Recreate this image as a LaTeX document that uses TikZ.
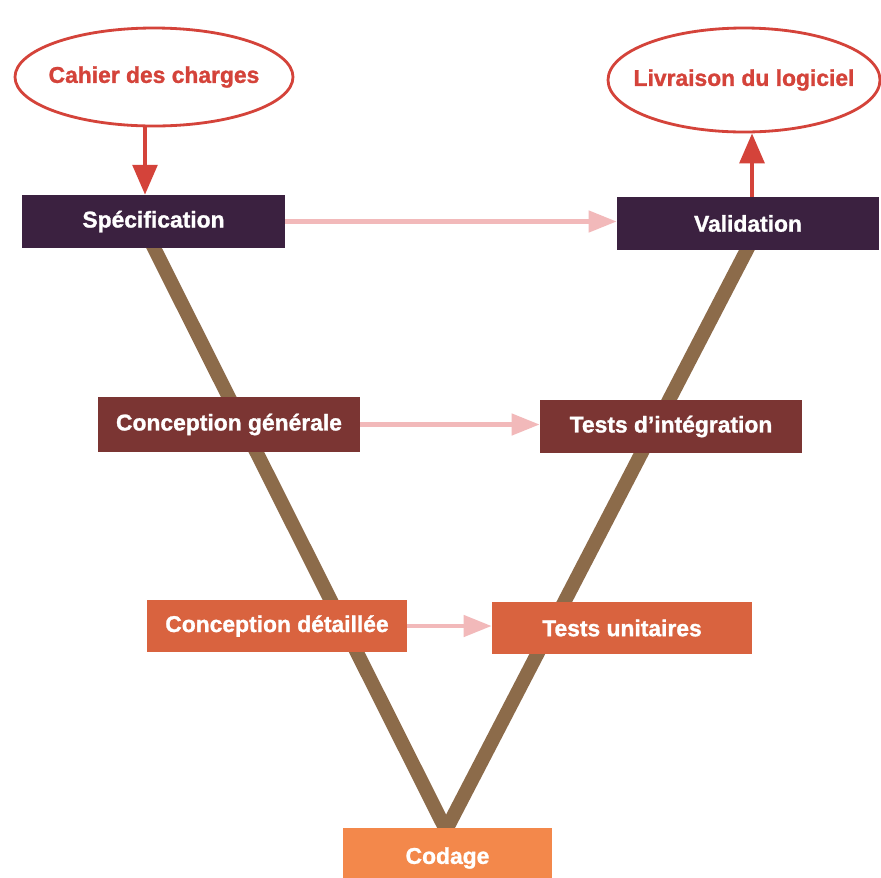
\documentclass[tikz,border=0pt]{standalone}
\usepackage{fontspec}
\setmainfont{Liberation Sans}
\newfontfamily\heavyfont{Liberation Sans}[BoldFeatures={FakeBold=1.2}]
\usetikzlibrary{shapes.geometric,arrows.meta}
\definecolor{vline}{HTML}{8C6B4A}
\definecolor{lvlA}{HTML}{3B2140}
\definecolor{lvlB}{HTML}{7B3533}
\definecolor{lvlC}{HTML}{D9633F}
\definecolor{lvlD}{HTML}{F3884B}
\definecolor{redline}{HTML}{D4433A}
\definecolor{pinkarrow}{HTML}{F2B9BA}
\tikzset{
  phase/.style={draw=none, rectangle, inner sep=0pt, text=white,
    font=\heavyfont\bfseries\fontsize{13}{15}\selectfont},
  endpoint/.style={ellipse, draw=redline, line width=1.6pt, fill=white,
    inner xsep=-12pt, inner ysep=0pt,
    text=redline, font=\heavyfont\bfseries\fontsize{13}{15}\selectfont},
  vleg/.style={draw=vline, line width=8pt},
  flow/.style={draw=redline, line width=2.3pt, -{Triangle[length=17pt,width=14pt]}},
  link/.style={draw=pinkarrow, line width=2.6pt, -{Triangle[length=16pt,width=12pt]}}
}
\begin{document}
\begin{tikzpicture}[x=0.02cm,y=-0.02cm]
\useasboundingbox (0,0) rectangle (881,877);
\fill[white] (0,0) rectangle (881,877);
% V legs, behind the boxes
\coordinate (apex) at (446,830);
\coordinate (ltop) at (150,240);
\coordinate (rtop) at (752,240);
\draw[vleg] (ltop) -- (apex) -- (rtop);
% phase boxes
\node[phase, fill=lvlA, minimum width=263*0.02cm, minimum height=53*0.02cm] (spec) at (153.5,221.5) {Spécification};
\node[phase, fill=lvlA, minimum width=262*0.02cm, minimum height=53*0.02cm] (valid) at (748,223.5) {Validation};
\node[phase, fill=lvlB, minimum width=262*0.02cm, minimum height=55*0.02cm] (cgen) at (229,424.5) {Conception générale};
\node[phase, fill=lvlB, minimum width=262*0.02cm, minimum height=53*0.02cm] (tint) at (671,426.5) {Tests d’intégration};
\node[phase, fill=lvlC, minimum width=260*0.02cm, minimum height=52*0.02cm] (cdet) at (277,626) {Conception détaillée};
\node[phase, fill=lvlC, minimum width=260*0.02cm, minimum height=52*0.02cm] (tunit) at (622,628) {Tests unitaires};
\node[phase, fill=lvlD, minimum width=209*0.02cm, minimum height=60*0.02cm] (cod) at (447.5,858) {Codage};
% start and end ellipses
\node[endpoint, minimum width=278*0.02cm, minimum height=98*0.02cm] (cdc) at (154,77) {Cahier des charges};
\node[endpoint, minimum width=272*0.02cm, minimum height=104*0.02cm] (livr) at (744,80) {Livraison du logiciel};
% flow arrows
\draw[flow] (cdc.south -| 145,0) -- (spec.north -| 145,0);
\draw[flow] (valid.north -| 752,0) -- (livr.south -| 752,0);
% correspondence arrows
\draw[link] (spec.east) -- (spec.east -| valid.west);
\draw[link] (cgen.east) -- (cgen.east -| tint.west);
\draw[link] (cdet.east) -- (cdet.east -| tunit.west);
\end{tikzpicture}
\end{document}
